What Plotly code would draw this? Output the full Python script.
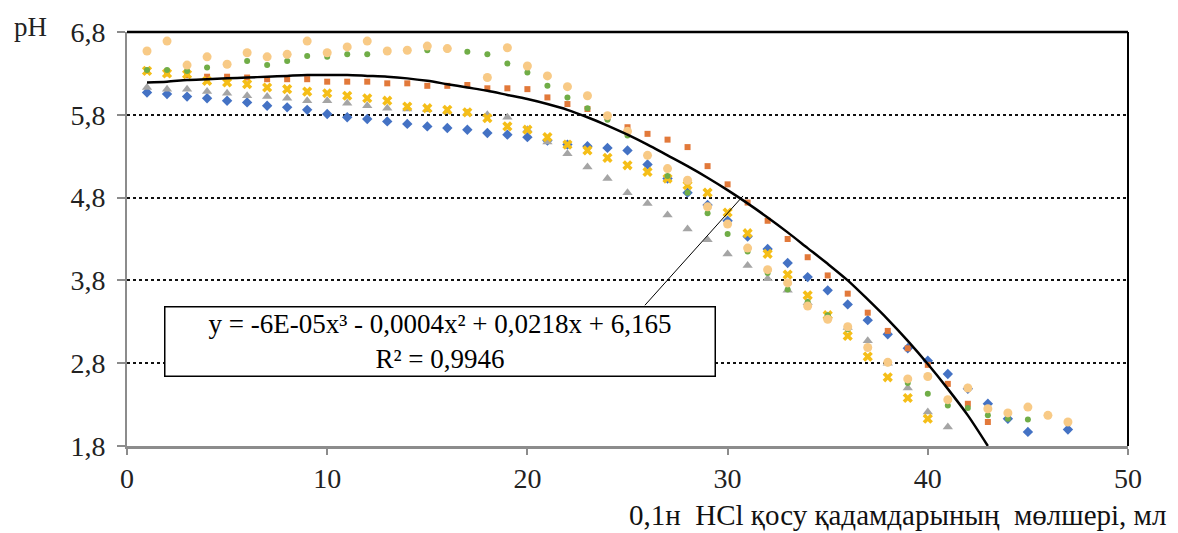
import plotly.graph_objects as go

x_vals = list(range(1, 48))

blue = [6.07, 6.05, 6.02, 6.00, 5.97, 5.95, 5.91, 5.89, 5.86, 5.81,
        5.77, 5.75, 5.72, 5.69, 5.66, 5.64, 5.62, 5.58, 5.56, 5.53,
        5.49, 5.44, 5.42, 5.40, 5.37, 5.20, 5.03, 4.86, 4.71, 4.52,
        4.33, 4.18, 4.01, 3.84, 3.68, 3.51, 3.32, 3.15, 2.98, 2.83,
        2.67, 2.49, 2.31, 2.13, 1.97, None, 2.00]

orange = [6.33, 6.30, 6.28, 6.26, 6.26, 6.25, 6.23, 6.23, 6.23, 6.20,
          6.20, 6.20, 6.18, 6.18, 6.15, 6.15, 6.16, 6.12, 6.12, 6.11,
          6.01, 5.93, 5.87, 5.77, 5.65, 5.57, 5.50, 5.41, 5.18, 4.96,
          4.74, 4.52, 4.30, 4.08, 3.86, 3.64, 3.41, 3.19, 2.98, 2.78,
          2.55, 2.31, 2.09, None, None, None, None]

gray = [6.13, 6.11, 6.11, 6.08, 6.06, 6.03, 6.02, 6.00, 5.97, 5.97,
        5.94, 5.91, 5.88, 5.87, 5.86, 5.84, 5.82, 5.80, 5.77, 5.62,
        5.47, 5.33, 5.17, 5.03, 4.86, 4.73, 4.59, 4.42, 4.29, 4.12,
        3.98, 3.82, 3.68, 3.53, 3.37, 3.23, 3.07, 2.80, 2.50, 2.21,
        2.03, None, None, None, None, None, None]

yellow = [6.33, 6.30, 6.29, 6.21, 6.19, 6.17, 6.13, 6.11, 6.08, 6.06,
          6.03, 6.00, 5.97, 5.90, 5.88, 5.86, 5.83, 5.76, 5.66, 5.62,
          5.53, 5.44, 5.37, 5.28, 5.19, 5.11, 5.03, 4.95, 4.86, 4.62,
          4.37, 4.12, 3.87, 3.62, 3.38, 3.13, 2.88, 2.63, 2.38, 2.13,
          None, None, None, None, None, None, None]

green = [6.34, 6.34, 6.33, 6.37, 6.42, 6.45, 6.40, 6.45, 6.51, 6.50,
         6.53, 6.53, 6.56, 6.57, 6.58, 6.59, 6.56, 6.53, 6.42, 6.31,
         6.15, 6.01, 5.88, 5.74, 5.55, 5.30, 5.06, 4.86, 4.61, 4.36,
         4.15, 3.89, 3.69, 3.54, 3.38, 3.21, 2.99, 2.80, 2.56, 2.43,
         2.29, 2.26, 2.17, 2.13, 2.12, None, None]

peach = [6.57, 6.69, 6.40, 6.50, 6.41, 6.55, 6.50, 6.53, 6.69, 6.55,
         6.62, 6.69, 6.57, 6.58, 6.63, 6.60, None, 6.25, 6.61, 6.39,
         6.27, 6.14, 6.03, 5.79, 5.60, 5.31, 5.15, 5.01, 4.69, 4.48,
         4.19, 3.93, 3.77, 3.49, 3.33, 3.24, 2.99, 2.81, 2.61, 2.64,
         2.36, 2.50, 2.25, 2.20, 2.27, 2.17, 2.09]

trend_x = list(range(1, 44))
trend_y = [6.19, 6.20, 6.22, 6.23, 6.24, 6.25, 6.26, 6.27, 6.28, 6.28,
           6.28, 6.27, 6.26, 6.24, 6.21, 6.17, 6.13, 6.09, 6.04, 5.99,
           5.93, 5.86, 5.77, 5.67, 5.56, 5.44, 5.31, 5.18, 5.04, 4.89,
           4.73, 4.56, 4.38, 4.19, 4.00, 3.80, 3.57, 3.33, 3.07, 2.79,
           2.49, 2.17, 1.80]

y_ticks = [1.8, 2.8, 3.8, 4.8, 5.8, 6.8]
y_tick_text = ["1,8", "2,8", "3,8", "4,8", "5,8", "6,8"]
x_ticks = [0, 10, 20, 30, 40, 50]

equation = "y = -6E-05x³ - 0,0004x² + 0,0218x + 6,165<br>R² = 0,9946"
x_title = "0,1н  HCl қосу қадамдарының  мөлшері, мл"

FONT = "Liberation Serif"

fig = go.Figure()

series = [
    (blue, "#4472C4", "diamond", 8),
    (orange, "#E2793A", "square", 6),
    (gray, "#A5A5A5", "triangle-up", 9),
    (yellow, "#F5BE18", "x", 9),
    (green, "#70AD47", "circle", 6),
    (peach, "#F8CA86", "circle", 9),
]
for ys, col, sym, sz in series:
    fig.add_trace(go.Scatter(x=x_vals, y=ys, mode="markers",
                             marker=dict(color=col, symbol=sym, size=sz, line=dict(width=0)),
                             showlegend=False, hoverinfo="skip"))

fig.add_trace(go.Scatter(x=trend_x, y=trend_y, mode="lines",
                         line=dict(color="black", width=2.5, shape="spline", smoothing=0.8),
                         showlegend=False, hoverinfo="skip"))

fig.update_layout(
    width=1178, height=533,
    margin=dict(l=127, r=50, t=32, b=87),
    paper_bgcolor="white", plot_bgcolor="white",
    font=dict(family=FONT, size=28, color="#222"),
    xaxis=dict(range=[0, 50], tickvals=x_ticks, showgrid=False, zeroline=False,
               showline=True, linecolor="#8c8c8c", linewidth=2.5,
               ticks="outside", ticklen=6, tickcolor="#8c8c8c", tickwidth=2,
               tickfont=dict(family=FONT, size=28, color="#222")),
    yaxis=dict(range=[1.8, 6.8], tickvals=y_ticks, ticktext=y_tick_text,
               showgrid=True, gridcolor="#111", gridwidth=2, griddash="dot",
               zeroline=False, showline=True, linecolor="#8c8c8c", linewidth=2,
               ticks="outside", ticklen=8, tickcolor="#8c8c8c", tickwidth=2,
               ticklabelstandoff=6,
               tickfont=dict(family=FONT, size=28, color="#222")),
)

# top and right borders of the plot area
fig.add_shape(type="line", xref="paper", yref="paper", x0=0, x1=1, y0=1, y1=1,
              line=dict(color="black", width=2.5))
fig.add_shape(type="line", xref="paper", yref="paper", x0=1, x1=1, y0=0, y1=1,
              line=dict(color="black", width=2))

# leader line from the equation box to the trendline
fig.add_shape(type="line", xref="x", yref="y", x0=25.87, y0=3.50, x1=30.77, y1=4.82,
              line=dict(color="black", width=1))

fig.add_annotation(x=15.61, y=3.068, xref="x", yref="y", text=equation, showarrow=False,
                   align="center", font=dict(family=FONT, size=27, color="black"),
                   width=545, height=64,
                   bordercolor="black", borderwidth=1.5, borderpad=2, bgcolor="white")

fig.add_annotation(x=-115 / 1001, y=1 + 5 / 414, xref="paper", yref="paper", text="pH",
                   showarrow=False, xanchor="left", yanchor="middle",
                   font=dict(family=FONT, size=27, color="#222"))

fig.add_annotation(x=(1168 - 127) / 1001, y=-(515 - 446) / 414, xref="paper", yref="paper",
                   text=x_title, showarrow=False, xanchor="right", yanchor="middle",
                   font=dict(family=FONT, size=29, color="#111"))

fig.write_html("out.html")
